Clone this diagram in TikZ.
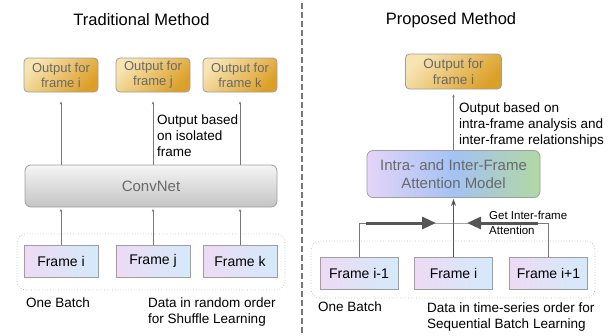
\documentclass[tikz,border=0pt]{standalone}
\usepackage{fontspec}
\setmainfont{Liberation Sans}
\usepackage{tikz}
\definecolor{edgegray}{RGB}{158, 158, 158}
\definecolor{txtgray}{RGB}{105, 105, 105}
\definecolor{linkgray}{RGB}{120, 120, 120}
\definecolor{darkgray}{RGB}{85, 85, 85}
\definecolor{goldA}{RGB}{248, 228, 178}
\definecolor{goldB}{RGB}{220, 160, 40}
\definecolor{lav}{RGB}{238, 218, 244}
\definecolor{skyblue}{RGB}{212, 234, 250}
\definecolor{greyA}{RGB}{245, 245, 245}
\definecolor{greyB}{RGB}{196, 196, 196}
\definecolor{mpurple}{RGB}{228, 212, 248}
\definecolor{mblue}{RGB}{164, 194, 244}
\definecolor{mgreen}{RGB}{178, 216, 162}
\usetikzlibrary{positioning}
\usetikzlibrary{arrows.meta}

\begin{document}
\begin{tikzpicture}[
  outbox/.style={rectangle, rounded corners=4pt, draw=edgegray, line width=0.8pt, top color=goldA, bottom color=goldB, shading angle=45, text=txtgray, align=center, inner sep=0pt, font=\fontsize{13}{15}\selectfont},
  framebox/.style={rectangle, draw=edgegray, line width=0.8pt, left color=lav, right color=skyblue, inner sep=0pt, minimum height=32pt, font=\fontsize{14}{16}\selectfont},
  netbox/.style={rectangle, rounded corners=6pt, draw=edgegray, line width=0.8pt, text=txtgray, align=center, inner sep=0pt, font=\fontsize{15}{18}\selectfont},
  batchbox/.style={rectangle, rounded corners=9pt, draw=edgegray!70, dotted, line width=0.7pt, inner sep=0pt},
  title/.style={anchor=base, inner sep=0pt, font=\fontsize{16.5}{19}\selectfont},
  note/.style={anchor=north west, align=left, inner sep=0pt, font=\fontsize{13.5}{16}\selectfont},
  smallnote/.style={anchor=north west, align=left, inner sep=0pt, font=\fontsize{11.5}{15}\selectfont},
  arr/.style={-{Stealth[length=3pt, width=2.5pt]}, line width=0.6pt, color=linkgray},
  midarr/.style={-{Stealth[length=7pt, width=5pt]}, line width=1.3pt, color=darkgray},
  link/.style={line width=0.7pt, color=linkgray},
  bigarr/.style={-{Triangle[length=14pt, width=12pt]}, line width=3pt, color=darkgray},
  divider/.style={line width=1.3pt, color=linkgray, dash pattern=on 6pt off 3pt}
]
\useasboundingbox (0pt, 0pt) rectangle (615pt, -335pt);

% left half
\node (titleL) [title] at (141.5pt, -25pt) {Traditional Method};
\node (oi) [outbox, minimum width=74pt, minimum height=34pt] at (61pt, -75pt) {Output for\\frame i};
\node (oj) [outbox, minimum width=74pt, minimum height=34pt] at (153pt, -75pt) {Output for\\frame j};
\node (ok) [outbox, minimum width=74pt, minimum height=34pt] at (240pt, -75pt) {Output for\\frame k};
\node (cn) [netbox, top color=greyA, bottom color=greyB, minimum width=252pt, minimum height=42pt] at (151pt, -186pt) {ConvNet};
\node (batchL) [batchbox, minimum width=268pt, minimum height=56pt] at (151pt, -262pt) {};
\node (fi) [framebox, minimum width=74pt] at (61pt, -261pt) {Frame i};
\node (fj) [framebox, minimum width=74pt] at (153pt, -261pt) {Frame j};
\node (fk) [framebox, minimum width=74pt] at (240pt, -261pt) {Frame k};
\node (noteL) [note] at (157pt, -115pt) {Output based\\on isolated\\frame};
\node (oneL) [note] at (26pt, -298pt) {One Batch};
\node (orderL) [note] at (148pt, -298pt) {Data in random order\\for Shuffle Learning};
\draw [arr, shorten >=9pt] (cn.north -| oi) to (oi.south);
\draw [arr, shorten >=9pt] (cn.north -| oj) to (oj.south);
\draw [arr, shorten >=9pt] (cn.north -| ok) to (ok.south);
\draw [arr, shorten >=1.5pt] (fi.north) to (cn.south -| fi);
\draw [arr, shorten >=1.5pt] (fj.north) to (cn.south -| fj);
\draw [arr, shorten >=1.5pt] (fk.north) to (cn.south -| fk);

% divider
\coordinate (divtop) at (302pt, -3pt);
\coordinate (divbot) at (302pt, -333pt);
\draw [divider] (divtop) to (divbot);

% right half
\node (titleR) [title] at (451pt, -24pt) {Proposed Method};
\node (po) [outbox, font=\fontsize{13.5}{15.5}\selectfont, minimum width=96pt, minimum height=35pt] at (453.5pt, -71.5pt) {Output for\\frame i};
\node (am) [netbox, left color=mpurple, right color=mgreen, middle color=mblue, minimum width=173pt, minimum height=47pt] at (453.5pt, -174pt) {Intra- and Inter-Frame\\Attention Model};
\node (batchR) [batchbox, minimum width=284pt, minimum height=57pt] at (453pt, -269.5pt) {};
\node (fa) [framebox, minimum width=78pt] at (359pt, -273pt) {Frame i-1};
\node (fb) [framebox, minimum width=78pt] at (453.5pt, -273pt) {Frame i};
\node (fc) [framebox, minimum width=78pt] at (548.5pt, -273pt) {Frame i+1};
\node (noteR) [note] at (459pt, -103pt) {Output based on\\intra-frame analysis and\\inter-frame relationships};
\node (attn) [smallnote] at (489pt, -211pt) {Get Inter-frame\\Attention};
\node (oneR) [note] at (318pt, -302pt) {One Batch};
\node (orderR) [note] at (427pt, -303pt) {Data in time-series order for\\Sequential Batch Learning};
\coordinate (junc) at (453.5pt, -223pt);
\coordinate (la) at (366pt, -223pt);
\coordinate (lb) at (436pt, -223pt);
\coordinate (ra) at (538pt, -223pt);
\coordinate (rb) at (467pt, -223pt);
\draw [link] (fa.north) |- (junc) -| (fc.north);
\draw [bigarr] (la) to (lb);
\draw [bigarr] (ra) to (rb);
\draw [midarr, shorten >=1pt] (fb.north) to (am.south);
\draw [arr, shorten >=5pt] (am.north) to (po.south);
\end{tikzpicture}
\end{document}
